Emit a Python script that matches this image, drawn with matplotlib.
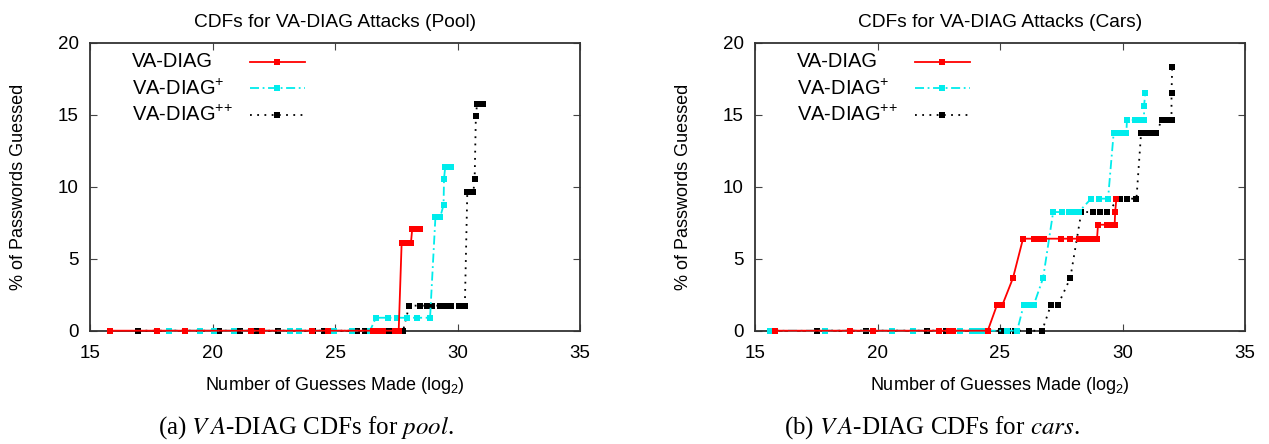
import matplotlib
matplotlib.use("Agg")
import matplotlib.pyplot as plt
from matplotlib.lines import Line2D

plt.rcParams['font.family'] = ['Liberation Sans', 'DejaVu Sans']
plt.rcParams['mathtext.fontset'] = 'stix'
plt.rcParams['mathtext.default'] = 'regular'

# ---------------- data ----------------
series_labels = ["VA-DIAG", "VA-DIAG$^{+}$", "VA-DIAG$^{+\\!+}$"]
titles = ["CDFs for VA-DIAG Attacks (Pool)", "CDFs for VA-DIAG Attacks (Cars)"]
captions = ["(a) $\\mathit{V\\,A}$-DIAG CDFs for $\\mathit{pool}$.",
            "(b) $\\mathit{V\\,A}$-DIAG CDFs for $\\mathit{cars}$."]
x_ticks = [15, 20, 25, 30, 35]
y_ticks = [0, 5, 10, 15, 20]

# Pool
pool_diag_x = [15.83, 17.75, 18.87, 21.56, 22.0, 24.08, 24.7, 26.55, 26.75, 26.95, 27.45, 27.6,
               27.72, 27.95, 28.1, 28.15, 28.3, 28.45]
pool_diag_y = [0, 0, 0, 0, 0, 0, 0, 0, 0, 0, 0, 0,
               6.1, 6.1, 6.1, 7.04, 7.04, 7.04]
pool_plus_x = [18.21, 19.48, 20.05, 20.86, 23.16, 23.52, 24.96, 25.68, 26.43,
               26.67, 27.17, 27.52, 27.93, 28.33, 28.88,
               29.1, 29.3, 29.43, 29.45, 29.5, 29.75]
pool_plus_y = [0, 0, 0, 0, 0, 0, 0, 0, 0,
               0.9, 0.9, 0.9, 0.9, 0.9, 0.9,
               7.92, 7.92, 8.73, 10.56, 11.39, 11.39]
pool_pp_x = [16.97, 20.26, 21.11, 21.8, 22.68, 24.1, 24.55, 24.96, 25.88, 26.22, 27.2, 27.5, 27.78,
             28.03, 28.45, 28.75, 28.95, 29.3, 29.5, 29.75, 30.05, 30.3,
             30.4, 30.65, 30.7, 30.75, 30.8, 31.05]
pool_pp_y = [0, 0, 0, 0, 0, 0, 0, 0, 0, 0, 0, 0, 0,
             1.74, 1.74, 1.74, 1.74, 1.74, 1.74, 1.74, 1.74, 1.74,
             9.65, 9.65, 10.56, 14.93, 15.76, 15.76]

# Cars
cars_diag_x = [15.82, 18.88, 19.81, 22.5, 22.9, 23.1, 24.5,
               24.88, 25.1, 25.53,
               25.94, 26.4, 26.6, 26.8, 27.49, 27.87, 28.21, 28.4, 28.6, 28.8, 28.96,
               29.0, 29.35, 29.5, 29.68, 29.7, 29.75]
cars_diag_y = [0, 0, 0, 0, 0, 0, 0,
               1.8, 1.8, 3.66,
               6.39, 6.39, 6.39, 6.39, 6.39, 6.39, 6.39, 6.39, 6.39, 6.39, 6.39,
               7.36, 7.36, 7.36, 7.36, 8.24, 9.17]
cars_plus_x = [15.61, 17.86, 20.59, 21.45, 23.38, 23.86, 24.05, 24.25, 25.3, 25.7,
               25.97, 26.2, 26.38, 26.76,
               27.17, 27.54, 27.8, 28.0, 28.21,
               28.72, 29.06, 29.41,
               29.64, 29.8, 29.98, 30.16,
               30.18, 30.52, 30.7, 30.88, 30.88, 30.93]
cars_plus_y = [0, 0, 0, 0, 0, 0, 0, 0, 0, 0,
               1.8, 1.8, 1.8, 3.66,
               8.24, 8.24, 8.24, 8.24, 8.24,
               9.17, 9.17, 9.17,
               13.75, 13.75, 13.75, 13.75,
               14.63, 14.63, 14.63, 14.63, 15.6, 16.53]
cars_pp_x = [17.52, 19.54, 22.02, 22.8, 24.47, 25.03, 25.31, 25.63, 26.19, 26.72,
             27.08, 27.37, 27.87,
             28.32, 28.8, 29.1, 29.35,
             29.89, 30.19, 30.57,
             30.76, 30.95, 31.15, 31.35,
             31.62, 31.8, 32.0, 32.0, 32.03]
cars_pp_y = [0, 0, 0, 0, 0, 0, 0, 0, 0, 0,
             1.8, 1.8, 3.66,
             8.24, 8.24, 8.24, 8.24,
             9.17, 9.17, 9.17,
             13.75, 13.75, 13.75, 13.75,
             14.63, 14.63, 14.63, 16.53, 18.33]

panels = [
    [(pool_diag_x, pool_diag_y), (pool_plus_x, pool_plus_y), (pool_pp_x, pool_pp_y)],
    [(cars_diag_x, cars_diag_y), (cars_plus_x, cars_plus_y), (cars_pp_x, cars_pp_y)],
]

colors = ['#ff0000', '#00ecec', '#000000']
styles = ['-', (0, (5, 2, 1, 2)), (0, (1, 3))]

fig = plt.figure(figsize=(12.69, 4.44), dpi=100)
W, H = 1269, 444
boxes = [(90, 580), (755, 1245)]
top_px, bot_px = 42.7, 330.7
cap_x = [306, 932]
leg_rows = [0.934, 0.841, 0.749]
leg_text_x = 0.085
leg_line_x = (0.3265, 0.4388)

for i, (l, r) in enumerate(boxes):
    ax = fig.add_axes([l / W, 1 - bot_px / H, (r - l) / W, (bot_px - top_px) / H])
    for j, (xs, ys) in enumerate(panels[i]):
        ax.plot(xs, ys, color=colors[j], lw=1.3, marker='s', markersize=4.6,
                markeredgewidth=0, clip_on=False,
                zorder=3 + (2 - j) * 0.1, linestyle=styles[j])
        # legend (label on the left, sample on the right)
        ax.text(leg_text_x, leg_rows[j], series_labels[j], transform=ax.transAxes,
                ha='left', va='center', fontsize=14.5)
        ax.add_line(Line2D(leg_line_x, [leg_rows[j]] * 2, transform=ax.transAxes,
                           color=colors[j], lw=1.3, linestyle=styles[j]))
        ax.add_line(Line2D([sum(leg_line_x) / 2], [leg_rows[j]], transform=ax.transAxes,
                           color=colors[j], marker='s', markersize=4.6,
                           markeredgewidth=0, linestyle='none'))
    ax.set_xlim(15, 35)
    ax.set_ylim(0, 20)
    ax.set_xticks(x_ticks)
    ax.set_yticks(y_ticks)
    ax.tick_params(direction='in', top=True, right=True, length=5, width=0.8,
                   color='#444444', labelsize=13.5)
    ax.tick_params(axis='x', pad=10)
    ax.tick_params(axis='y', pad=8)
    for s in ax.spines.values():
        s.set_color('#333333')
        s.set_linewidth(1.3)
    ax.set_title(titles[i], fontsize=13.8, pad=11)
    ax.set_xlabel("Number of Guesses Made (log$_2$)", fontsize=13, labelpad=10)
    ax.set_ylabel("% of Passwords Guessed", fontsize=13, labelpad=22)
    fig.text(cap_x[i] / W, 1 - 428 / H, captions[i], ha='center', va='center',
             fontsize=18, family='Liberation Serif')

fig.savefig("out.png", dpi=100)
